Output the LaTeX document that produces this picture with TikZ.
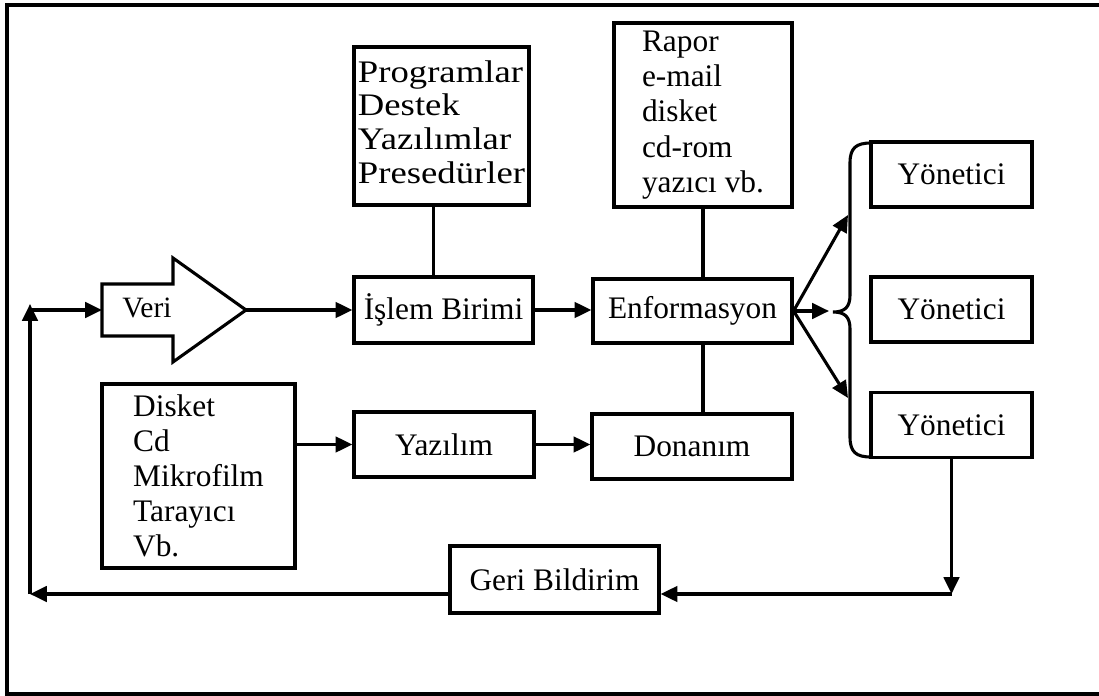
\documentclass[tikz,border=0pt]{standalone}
\usepackage{fontspec}
\setmainfont{Liberation Serif}
\usetikzlibrary{arrows.meta}
\begin{document}
\begin{tikzpicture}[x=.025cm,y=-.025cm,>={Triangle[length=12pt,width=11pt]},line width=2.2pt,
  font=\fontsize{22.3}{25}\selectfont,
  box/.style={draw,rectangle,inner sep=0pt,align=left},
  yon/.style={box,minimum width=4.025cm,minimum height=1.625cm}]
 \useasboundingbox (0,0) rectangle (1099,696);
 \draw[line width=2.4pt] (1099,5) -- (7,5) -- (7,694) -- (1099,694);
 % kutular
 \node[box,minimum width=4.375cm,minimum height=3.95cm] (prog) at (441.5,126)
  {\scalebox{1.17}[1]{\fontsize{22.3}{24}\selectfont\begin{tabular}{@{}l@{}}Programlar\\Destek\\Yazılımlar\\Presedürler\end{tabular}}};
 \node[box,minimum width=4.45cm,minimum height=4.6cm] (rapor) at (703,115)
  {Rapor\\e-mail\\disket\\cd-rom\\yazıcı vb.};
 \node[box,minimum width=4.475cm,minimum height=1.65cm] (islem) at (443.5,310) {İşlem Birimi};
 \node[box,minimum width=4.975cm,minimum height=1.6cm] (enf) at (692.5,311) {Enformasyon};
 \node[box,minimum width=4.5cm,minimum height=1.625cm] (yazilim) at (444,444.5) {Yazılım};
 \node[box,minimum width=5cm,minimum height=1.625cm] (donanim) at (692,446.5) {Donanım};
 \node[box,minimum width=4.825cm,minimum height=4.6cm] (disket) at (198.5,476)
  {Disket\\Cd\\Mikrofilm\\Tarayıcı\\Vb.};
 \node[box,minimum width=5.225cm,minimum height=1.675cm] (geri) at (554.5,579.5) {Geri Bildirim};
 \node[yon] (yon1) at (951.5,174.5) {Yönetici};
 \node[yon] (yon2) at (951.5,309.5) {Yönetici};
 \node[yon] (yon3) at (951.5,425) {Yönetici};
 % veri oku
 \draw (102,284) -- (173,284) -- (173,258) -- (246,310) -- (173,362) -- (173,336) -- (102,336) -- cycle;
 \node[font=\fontsize{21}{24}\selectfont] (veri) at (147,308) {Veri};
 \coordinate (veritip) at (246,310);
 \coordinate (veriback) at (102,310);
 % parantez
 \draw (871,143) .. controls (856,143) and (850,148) .. (850,163) -- (850,295)
  .. controls (850,307) and (845,312) .. (833,312)
  .. controls (845,312) and (850,317) .. (850,329) -- (850,437)
  .. controls (850,452) and (856,457) .. (871,457);
 \coordinate (b1) at (848,215);
 \coordinate (b2) at (829,311);
 \coordinate (b3) at (848,398);
 \coordinate (rb) at (951.5,594);
 \coordinate (lb) at (30,594);
 \coordinate (lt) at (30,304);
 % baglantilar
 \draw ([xshift=-5.7pt]prog.south) -- ([xshift=-5.7pt]prog.south |- islem.north);
 \draw (rapor.south) -- (rapor.south |- enf.north);
 \draw (enf.south -| rapor.south) -- (donanim.north -| rapor.south);
 \draw[->] (veritip) -- (islem.west);
 \draw[->] (islem.east) -- (islem.east -| enf.west);
 \draw[->] (enf.east) -- (b1);
 \draw[->] (enf.east) -- (b2);
 \draw[->] (enf.east) -- (b3);
 \draw[->] (disket.east |- yazilim) -- (yazilim.west);
 \draw[->] (yazilim.east) -- (yazilim.east -| donanim.west);
 \draw[->] (yon3.south) -- (rb);
 \draw[->] (rb) -- (geri.east |- rb);
 \draw[->] (geri.west |- lb) -- (lb);
 \draw[->] (lb) -- (lt);
 \draw[->] (veriback -| lb) -- (veriback);
\end{tikzpicture}
\end{document}
